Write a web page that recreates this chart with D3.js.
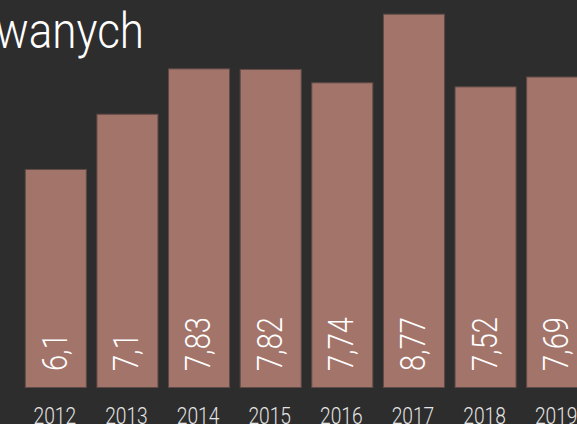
<!DOCTYPE html>
<html>
<head>
<meta charset="utf-8">
<script src="https://cdn.jsdelivr.net/npm/d3@7"></script>
<style>
  html, body { margin: 0; padding: 0; background: #2d2d2d; overflow: hidden; }
  svg { display: block; }
</style>
</head>
<body>
<div id="viz"></div>
<script>
// data
let years = ["2012", "2013", "2014", "2015", "2016", "2017", "2018", "2019"];
let values = [6.1, 7.05, 7.83, 7.82, 7.59, 8.77, 7.52, 7.69];   // bar heights as drawn
let valueLabels = ["6,1", "7,1", "7,83", "7,82", "7,74", "8,77", "7,52", "7,69"];
let titleText = "wanych";

let width = 577;
let height = 424;
let baseY = 387;

let svg = d3.select("#viz").append("svg")
    .attr("width", width)
    .attr("height", height);

svg.append("rect")
    .attr("width", width)
    .attr("height", height)
    .attr("fill", "#2d2d2d");

let x = d3.scaleBand()
    .domain(years)
    .range([20, 593])
    .paddingInner(0.134)
    .paddingOuter(0.067);

let y = d3.scaleLinear()
    .domain([2.35, 8.77])
    .range([baseY, 13.7]);

let bars = svg.selectAll("g.bar").data(years)
    .join("g")
    .attr("class", "bar");

bars.append("rect")
    .attr("x", d => x(d) + 0.5)
    .attr("y", (d, i) => y(values[i]) + 0.5)
    .attr("width", x.bandwidth() - 1)
    .attr("height", (d, i) => baseY - y(values[i]))
    .attr("fill", "#a3746a")
    .attr("stroke", "#5e4b47")
    .attr("stroke-width", 1);

// rotated value labels inside the bars
bars.append("text")
    .attr("transform", d => `translate(${x(d) + x.bandwidth() / 2 + 11},${baseY - 16}) rotate(-90) scale(0.83,1)`)
    .attr("fill", "#ffffff")
    .attr("font-family", "Roboto")
    .attr("font-weight", 300)
    .attr("font-size", 35)
    .text((d, i) => valueLabels[i]);

// year labels (cut by the bottom edge, as in the source)
bars.append("text")
    .attr("transform", d => `translate(${x(d) + x.bandwidth() / 2 - 1},${424}) scale(0.8,1)`)
    .attr("text-anchor", "middle")
    .attr("fill", "#e4e4e4")
    .attr("font-family", "Roboto")
    .attr("font-weight", 300)
    .attr("font-size", 24)
    .text(d => d);

// title, cut at the left edge
svg.append("text")
    .attr("transform", "translate(144,48) scale(0.88,1)")
    .attr("text-anchor", "end")
    .attr("fill", "#ffffff")
    .attr("font-family", "Roboto")
    .attr("font-weight", 300)
    .attr("font-size", 50)
    .text(titleText);
</script>
</body>
</html>
